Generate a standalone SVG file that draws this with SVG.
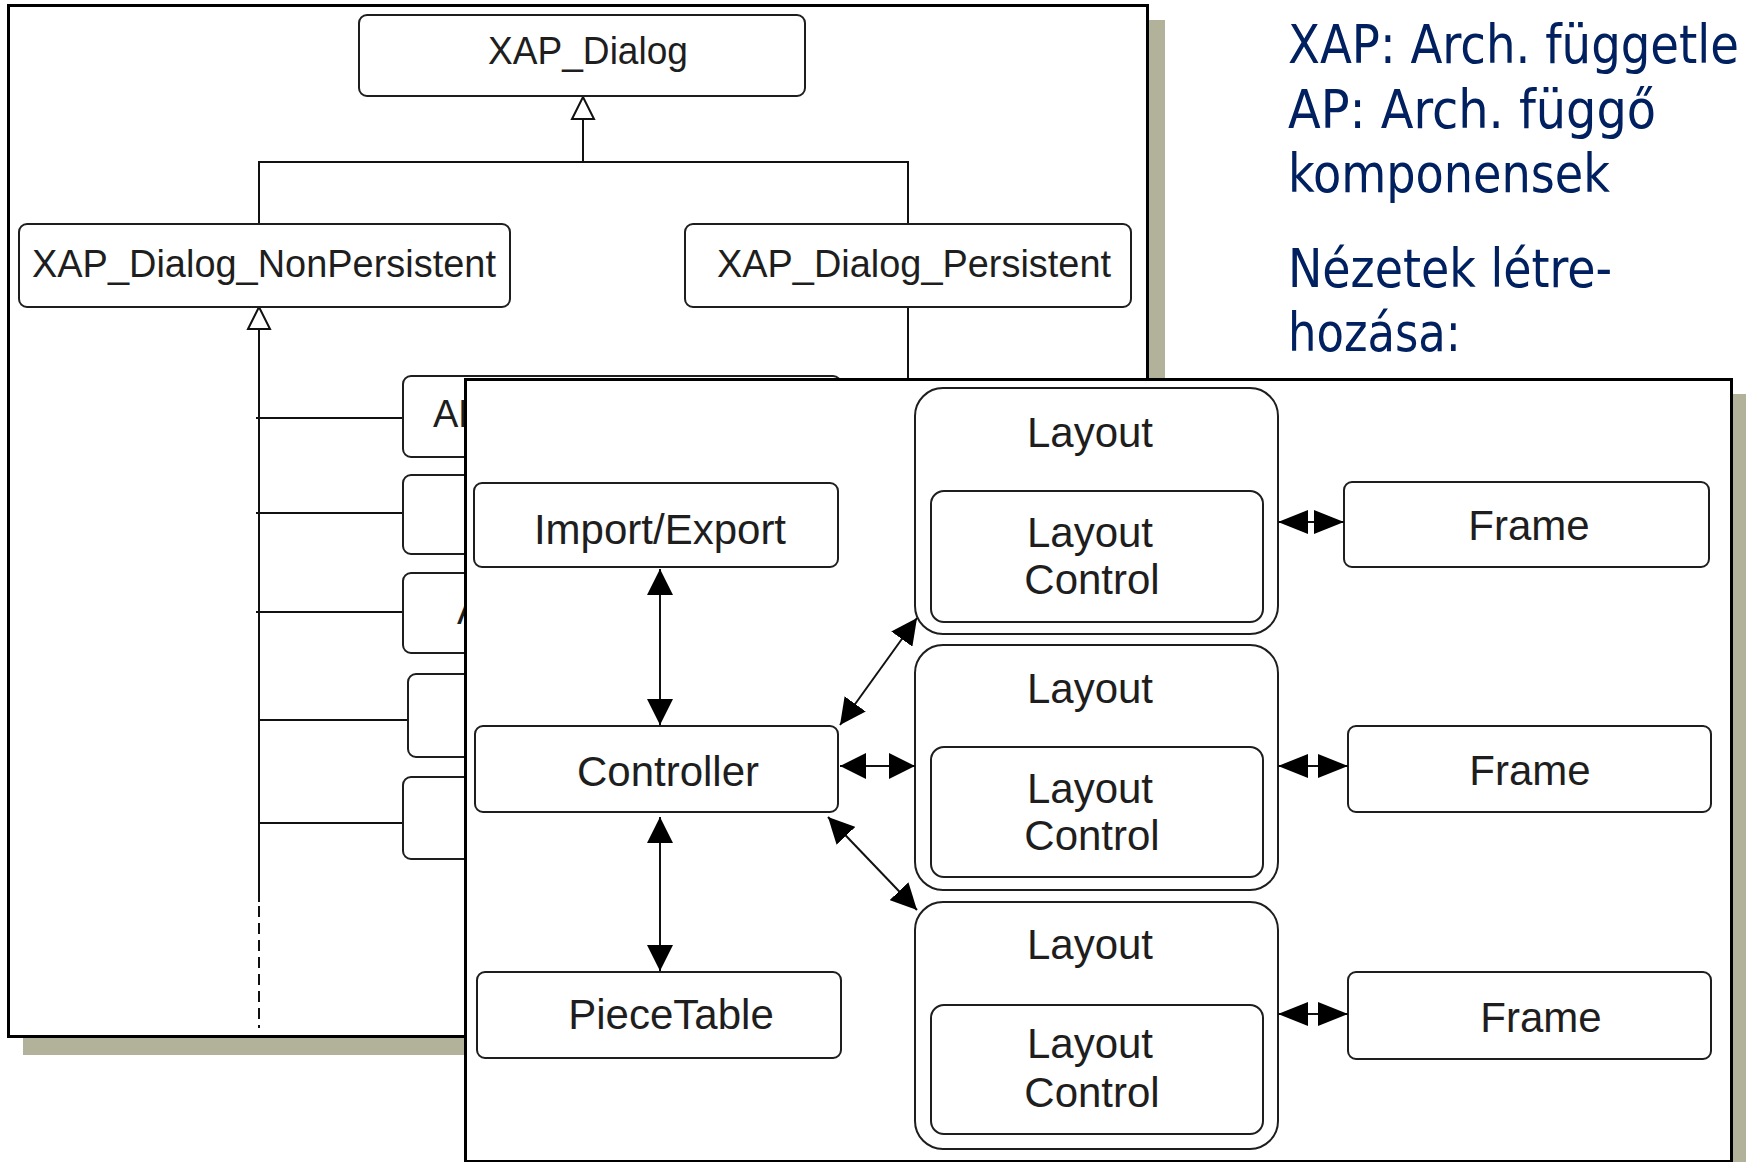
<svg xmlns="http://www.w3.org/2000/svg" width="1746" height="1162" viewBox="0 0 1746 1162">
<style>
.bx{fill:#fff;stroke:#1e1e1e;stroke-width:2}
.lb{font-family:"Liberation Sans",Arial,sans-serif;fill:#1e1e1e;text-anchor:middle}
.s38{font-size:38px}
.s42{font-size:42px}
.cn{stroke:#111;stroke-width:2;fill:none}
.dbl{stroke:#111;stroke-width:2;fill:none;marker-start:url(#ah);marker-end:url(#ah)}
.dblw{stroke:#111;stroke-width:2;fill:none;marker-start:url(#ahw);marker-end:url(#ahw)}
.inh{stroke:#111;stroke-width:2;fill:none;marker-end:url(#tri)}
.note{font-family:Tahoma,"DejaVu Sans Condensed","DejaVu Sans",sans-serif;font-size:54px;fill:#002060}
.shadow{fill:#b2b29a}
.panel{fill:#fff;stroke:#000;stroke-width:3}
</style>
<defs>
<marker id="ah" viewBox="0 0 26 26" refX="26" refY="13" markerWidth="26" markerHeight="26" markerUnits="userSpaceOnUse" orient="auto-start-reverse">
<path d="M0,0 L26,13 L0,26 z" fill="#000"/>
</marker>
<marker id="ahw" viewBox="0 0 30 26" refX="30" refY="13" markerWidth="30" markerHeight="26" markerUnits="userSpaceOnUse" orient="auto-start-reverse">
<path d="M0,1 L30,13 L0,25 z" fill="#000"/>
</marker>
<marker id="tri" viewBox="-2 -2 26 26" refX="22" refY="11" markerWidth="26" markerHeight="26" markerUnits="userSpaceOnUse" orient="auto">
<path d="M0,0 L22,11 L0,22 z" fill="#fff" stroke="#111" stroke-width="2"/>
</marker>
</defs>
<rect width="1746" height="1162" fill="#fff"/>

<!-- left panel (class hierarchy) -->
<g id="panel-left">
<rect class="shadow" x="23" y="20" width="1142" height="1035"/>
<rect class="panel" x="8.5" y="5.5" width="1139" height="1031"/>
</g>

<g id="connectors-left">
<line class="inh" x1="583" y1="162" x2="583" y2="97"/>
<polyline class="cn" points="259,224 259,162 908,162 908,224"/>
<line class="cn" x1="908" y1="307" x2="908" y2="380"/>
<line class="inh" x1="259" y1="902" x2="259" y2="307"/>
<line class="cn" x1="259" y1="906" x2="259" y2="1028" stroke-dasharray="11 6"/>
<line class="cn" x1="256" y1="418" x2="403" y2="418"/>
<line class="cn" x1="256" y1="513" x2="403" y2="513"/>
<line class="cn" x1="256" y1="612" x2="403" y2="612"/>
<line class="cn" x1="259" y1="720" x2="408" y2="720"/>
<line class="cn" x1="259" y1="823" x2="403" y2="823"/>
</g>

<g id="xap-dialog">
<rect class="bx" x="359" y="15" width="446" height="81" rx="8"/>
<text class="lb s38" x="588" y="64" textLength="200" lengthAdjust="spacingAndGlyphs">XAP_Dialog</text>
</g>
<g id="xap-dialog-nonpersistent">
<rect class="bx" x="19" y="224" width="491" height="83" rx="8"/>
<text class="lb s38" x="264" y="277" textLength="464" lengthAdjust="spacingAndGlyphs">XAP_Dialog_NonPersistent</text>
</g>
<g id="xap-dialog-persistent">
<rect class="bx" x="685" y="224" width="446" height="83" rx="8"/>
<text class="lb s38" x="914" y="277" textLength="394" lengthAdjust="spacingAndGlyphs">XAP_Dialog_Persistent</text>
</g>
<g id="ap-1">
<rect class="bx" x="403" y="376" width="438" height="81" rx="8"/>
<text class="lb s38" x="433" y="427" style="text-anchor:start">AP</text>
</g>
<g id="ap-2"><rect class="bx" x="403" y="475" width="438" height="79" rx="8"/></g>
<g id="ap-3">
<rect class="bx" x="403" y="573" width="438" height="80" rx="8"/>
<text class="lb s38" x="457" y="624" style="text-anchor:start">A</text>
</g>
<g id="ap-4"><rect class="bx" x="408" y="674" width="433" height="83" rx="8"/></g>
<g id="ap-5"><rect class="bx" x="403" y="777" width="438" height="82" rx="8"/></g>

<!-- notes -->
<g id="notes">
<text class="note" x="1288" y="63" textLength="451" lengthAdjust="spacingAndGlyphs">XAP: Arch. függetle</text>
<text class="note" x="1288" y="128" textLength="368" lengthAdjust="spacingAndGlyphs">AP: Arch. függő</text>
<text class="note" x="1288" y="192" textLength="322" lengthAdjust="spacingAndGlyphs">komponensek</text>
<text class="note" x="1288" y="287" textLength="324" lengthAdjust="spacingAndGlyphs">Nézetek létre-</text>
<text class="note" x="1288" y="351" textLength="173" lengthAdjust="spacingAndGlyphs">hozása:</text>
</g>

<!-- right panel (views) -->
<g id="panel-right">
<rect class="shadow" x="1729" y="394" width="30" height="780"/>
<rect class="panel" x="465.5" y="379.5" width="1266" height="782"/>
</g>

<g id="import-export">
<rect class="bx" x="474" y="483" width="364" height="84" rx="8"/>
<text class="lb s42" x="660" y="544">Import/Export</text>
</g>
<g id="controller">
<rect class="bx" x="475" y="726" width="363" height="86" rx="8"/>
<text class="lb s42" x="668" y="786">Controller</text>
</g>
<g id="piecetable">
<rect class="bx" x="477" y="972" width="364" height="86" rx="8"/>
<text class="lb s42" x="671" y="1029">PieceTable</text>
</g>

<g id="layout-1">
<rect class="bx" x="915" y="388" width="363" height="246" rx="28"/>
<text class="lb s42" x="1090" y="447">Layout</text>
<rect class="bx" x="931" y="491" width="332" height="131" rx="13"/>
<text class="lb s42" x="1090" y="547">Layout</text>
<text class="lb s42" x="1092" y="594">Control</text>
</g>
<g id="layout-2">
<rect class="bx" x="915" y="645" width="363" height="245" rx="28"/>
<text class="lb s42" x="1090" y="703">Layout</text>
<rect class="bx" x="931" y="747" width="332" height="130" rx="13"/>
<text class="lb s42" x="1090" y="803">Layout</text>
<text class="lb s42" x="1092" y="850">Control</text>
</g>
<g id="layout-3">
<rect class="bx" x="915" y="902" width="363" height="247" rx="28"/>
<text class="lb s42" x="1090" y="959">Layout</text>
<rect class="bx" x="931" y="1005" width="332" height="129" rx="13"/>
<text class="lb s42" x="1090" y="1058">Layout</text>
<text class="lb s42" x="1092" y="1107">Control</text>
</g>

<g id="frame-1">
<rect class="bx" x="1344" y="482" width="365" height="85" rx="8"/>
<text class="lb s42" x="1529" y="540">Frame</text>
</g>
<g id="frame-2">
<rect class="bx" x="1348" y="726" width="363" height="86" rx="8"/>
<text class="lb s42" x="1530" y="785">Frame</text>
</g>
<g id="frame-3">
<rect class="bx" x="1348" y="972" width="363" height="87" rx="8"/>
<text class="lb s42" x="1541" y="1032">Frame</text>
</g>

<g id="connectors-right">
<line class="dbl" x1="660" y1="569" x2="660" y2="725"/>
<line class="dbl" x1="660" y1="817" x2="660" y2="971"/>
<line class="dbl" x1="840" y1="725" x2="917" y2="618"/>
<line class="dbl" x1="828" y1="817" x2="917" y2="910"/>
<line class="dbl" x1="840" y1="766" x2="915" y2="766"/>
<line class="dblw" x1="1278" y1="522" x2="1344" y2="522"/>
<line class="dblw" x1="1278" y1="766" x2="1348" y2="766"/>
<line class="dblw" x1="1278" y1="1014" x2="1348" y2="1014"/>
</g>
</svg>
